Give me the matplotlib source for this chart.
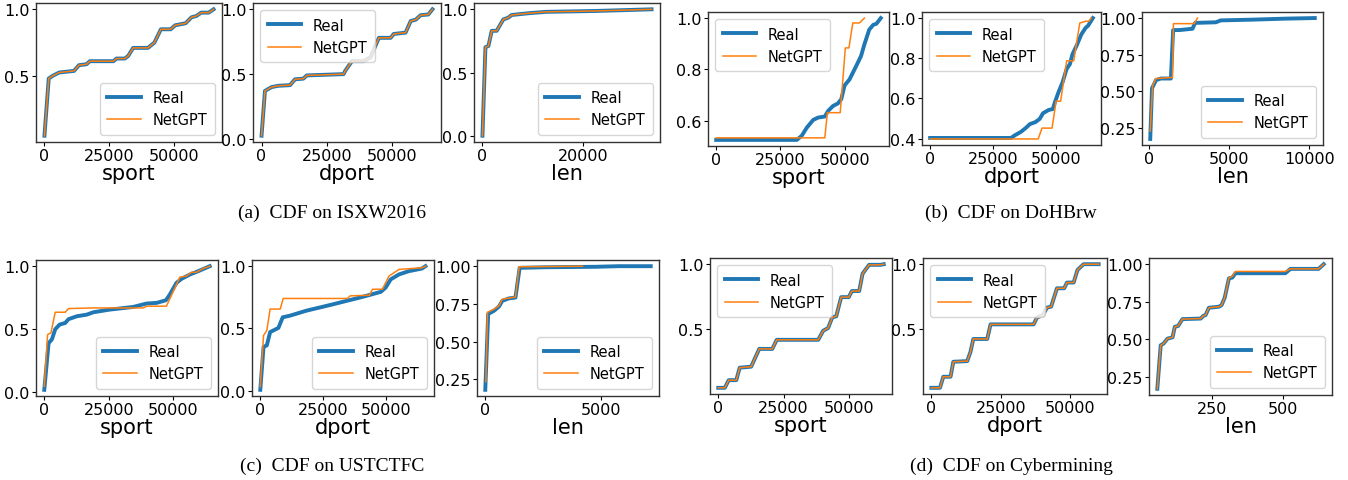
import matplotlib
matplotlib.use("Agg")
import matplotlib.pyplot as plt

W, H = 1348, 481

# ---------------- (a) ISXW2016 ----------------
isxw_sport_real_x = [0, 1650, 3160, 5700, 11400, 13300, 16200, 17500, 26600, 27800, 31000, 32300, 34200, 39900, 42400, 44900, 48700, 50400, 54400, 56700, 58600, 60400, 63300, 65200]
isxw_sport_real_y = [0.05, 0.48, 0.50, 0.525, 0.537, 0.58, 0.587, 0.61, 0.61, 0.63, 0.63, 0.65, 0.71, 0.71, 0.75, 0.85, 0.85, 0.88, 0.895, 0.94, 0.95, 0.975, 0.975, 1.0]
isxw_sport_gpt_x = isxw_sport_real_x
isxw_sport_gpt_y = isxw_sport_real_y

isxw_dport_real_x = [0, 1300, 3850, 6400, 10900, 12800, 16000, 17300, 31400, 32000, 34600, 39100, 41700, 44900, 49400, 50600, 55100, 57100, 59000, 60900, 63800, 65400]
isxw_dport_real_y = [0.025, 0.37, 0.40, 0.41, 0.415, 0.46, 0.465, 0.49, 0.50, 0.525, 0.60, 0.60, 0.63, 0.78, 0.78, 0.81, 0.82, 0.91, 0.92, 0.955, 0.96, 1.0]
isxw_dport_gpt_x = isxw_dport_real_x
isxw_dport_gpt_y = isxw_dport_real_y

isxw_len_real_x = [0, 594, 1190, 1850, 2840, 4160, 5150, 5800, 9440, 12700, 22600, 33700]
isxw_len_real_y = [0.0, 0.70, 0.71, 0.83, 0.83, 0.92, 0.934, 0.955, 0.97, 0.98, 0.987, 1.0]
isxw_len_gpt_x = isxw_len_real_x
isxw_len_gpt_y = isxw_len_real_y

# ---------------- (b) DoHBrw ----------------
doh_sport_real_x = [0, 31400, 33300, 35300, 37800, 39700, 42300, 43600, 45500, 47400, 48700, 50000, 51900, 54500, 56400, 57700, 59600, 61200, 62400, 64100]
doh_sport_real_y = [0.526, 0.526, 0.542, 0.574, 0.604, 0.613, 0.617, 0.639, 0.658, 0.668, 0.684, 0.738, 0.761, 0.813, 0.852, 0.897, 0.955, 0.974, 0.978, 1.0]
doh_sport_gpt_x = [0, 42300, 43300, 48300, 50300, 51700, 53200, 55800, 57700]
doh_sport_gpt_y = [0.534, 0.534, 0.632, 0.632, 0.884, 0.884, 0.981, 0.981, 1.0]

doh_dport_real_x = [0, 32100, 33600, 36000, 37900, 39600, 41800, 43500, 44800, 47000, 48700, 49600, 50900, 52600, 54200, 55500, 56500, 58100, 60000, 61700, 62700, 64600]
doh_dport_real_y = [0.403, 0.403, 0.416, 0.433, 0.452, 0.472, 0.482, 0.498, 0.526, 0.542, 0.547, 0.583, 0.629, 0.681, 0.747, 0.771, 0.820, 0.861, 0.918, 0.951, 0.962, 1.0]
doh_dport_gpt_x = [0, 42900, 44400, 48400, 50000, 51800, 54200, 57000, 59400, 61700, 63000, 63900]
doh_dport_gpt_y = [0.398, 0.398, 0.452, 0.452, 0.586, 0.586, 0.787, 0.787, 0.975, 0.984, 0.984, 1.0]

doh_len_real_x = [60, 170, 420, 730, 1350, 1490, 1870, 2700, 2860, 4150, 4460, 6430, 8510, 10330]
doh_len_real_y = [0.176, 0.521, 0.577, 0.588, 0.588, 0.918, 0.918, 0.927, 0.967, 0.971, 0.984, 0.989, 0.996, 1.0]
doh_len_gpt_x = [60, 210, 420, 1450, 1510, 2800, 3010]
doh_len_gpt_y = [0.23, 0.54, 0.588, 0.595, 0.962, 0.962, 1.0]

# ---------------- (c) USTCTFC ----------------
ustc_sport_real_x = [0, 1680, 2960, 4250, 5930, 8120, 9410, 12600, 16500, 19100, 25500, 34500, 39700, 43600, 47200, 48700, 51300, 53200, 56500, 59700, 64200]
ustc_sport_real_y = [0.02, 0.39, 0.42, 0.50, 0.537, 0.55, 0.58, 0.603, 0.616, 0.635, 0.656, 0.677, 0.704, 0.709, 0.73, 0.775, 0.868, 0.899, 0.934, 0.96, 1.0]
ustc_sport_gpt_x = [0, 1290, 2580, 4250, 8120, 9410, 19100, 38400, 39700, 47400, 52600, 55100, 57100, 59000, 61600, 64200]
ustc_sport_gpt_y = [0.048, 0.458, 0.471, 0.635, 0.635, 0.664, 0.669, 0.669, 0.683, 0.683, 0.913, 0.921, 0.952, 0.952, 0.981, 1.0]

ustc_dport_real_x = [0, 1300, 2600, 3900, 7200, 8900, 11800, 18300, 28000, 40600, 47800, 49700, 51700, 55000, 58900, 64100, 65500]
ustc_dport_real_y = [0.008, 0.352, 0.365, 0.471, 0.505, 0.59, 0.603, 0.643, 0.69, 0.754, 0.794, 0.828, 0.894, 0.934, 0.96, 0.981, 1.0]
ustc_dport_gpt_x = [0, 1300, 2600, 3900, 7900, 9100, 34500, 35700, 43300, 44500, 48400, 51000, 55000, 64000, 65600]
ustc_dport_gpt_y = [0.034, 0.444, 0.484, 0.656, 0.656, 0.741, 0.741, 0.762, 0.767, 0.815, 0.815, 0.92, 0.974, 0.987, 1.0]

ustc_len_real_x = [14, 140, 400, 610, 750, 1030, 1320, 1500, 2660, 4790, 5780, 7170]
ustc_len_real_y = [0.18, 0.683, 0.705, 0.733, 0.77, 0.786, 0.792, 0.989, 0.993, 0.996, 1.0, 1.0]
ustc_len_gpt_x = [40, 110, 400, 610, 750, 1320, 1480, 4220]
ustc_len_gpt_y = [0.234, 0.694, 0.716, 0.737, 0.781, 0.796, 0.996, 1.0]

# ---------------- (d) Cybermining ----------------
cyber_sport_real_x = [0, 2500, 4000, 6900, 8200, 12600, 15700, 20700, 22400, 38300, 40200, 42100, 43700, 45200, 47100, 50000, 51200, 54000, 55300, 57800, 62200, 63400]
cyber_sport_real_y = [0.047, 0.047, 0.106, 0.106, 0.202, 0.21, 0.347, 0.347, 0.417, 0.417, 0.487, 0.508, 0.591, 0.598, 0.746, 0.746, 0.793, 0.793, 0.927, 0.995, 0.995, 1.0]
cyber_sport_gpt_x = cyber_sport_real_x
cyber_sport_gpt_y = cyber_sport_real_y

cyber_dport_real_x = [0, 3100, 4300, 6900, 7900, 12900, 14100, 15100, 20100, 21300, 36800, 38000, 40200, 41600, 43100, 45200, 47800, 48800, 51200, 52600, 54800, 60200]
cyber_dport_real_y = [0.051, 0.051, 0.136, 0.136, 0.251, 0.256, 0.328, 0.426, 0.426, 0.538, 0.538, 0.59, 0.61, 0.667, 0.674, 0.815, 0.815, 0.859, 0.859, 0.956, 1.0, 1.0]
cyber_dport_gpt_x = cyber_dport_real_x
cyber_dport_gpt_y = cyber_dport_real_y

cyber_len_real_x = [55, 67, 77, 91, 109, 117, 129, 144, 209, 218, 226, 238, 274, 283, 294, 309, 321, 332, 509, 527, 627, 645]
cyber_len_real_y = [0.17, 0.46, 0.471, 0.504, 0.513, 0.583, 0.589, 0.634, 0.638, 0.656, 0.661, 0.71, 0.717, 0.728, 0.777, 0.906, 0.911, 0.94, 0.94, 0.969, 0.969, 1.0]
cyber_len_gpt_x = [55, 67, 77, 91, 109, 117, 129, 144, 209, 218, 226, 238, 274, 283, 294, 309, 321, 332, 509, 527, 627, 645]
cyber_len_gpt_y = [0.17, 0.46, 0.471, 0.504, 0.513, 0.583, 0.589, 0.634, 0.638, 0.656, 0.661, 0.71, 0.717, 0.728, 0.777, 0.91, 0.92, 0.952, 0.952, 0.969, 0.969, 1.0]

# tick values
port_xticks = [0, 25000, 50000]
isxw_len_xticks = [0, 20000]
doh_len_xticks = [0, 5000, 10000]
ustc_len_xticks = [0, 5000]
cyber_len_xticks = [250, 500]
yt_half = [0.5, 1.0]
yt_half0 = [0.0, 0.5, 1.0]
yt_fifth = [0.6, 0.8, 1.0]
yt_fifth4 = [0.4, 0.6, 0.8, 1.0]
yt_quarter = [0.25, 0.50, 0.75, 1.00]

xlabels = ["sport", "dport", "len"]
captions = ["(a)  CDF on ISXW2016", "(b)  CDF on DoHBrw",
            "(c)  CDF on USTCTFC", "(d)  CDF on Cybermining"]

panels = [
    ((36, 4, 222, 143), (isxw_sport_real_x, isxw_sport_real_y), (isxw_sport_gpt_x, isxw_sport_gpt_y), "lower right", 0, port_xticks, yt_half, "%.1f"),
    ((253, 4, 441, 143), (isxw_dport_real_x, isxw_dport_real_y), (isxw_dport_gpt_x, isxw_dport_gpt_y), "upper left", 1, port_xticks, yt_half0, "%.1f"),
    ((474, 4, 660, 143), (isxw_len_real_x, isxw_len_real_y), (isxw_len_gpt_x, isxw_len_gpt_y), "lower right", 2, isxw_len_xticks, yt_half0, "%.1f"),
    ((708, 13, 889, 147), (doh_sport_real_x, doh_sport_real_y), (doh_sport_gpt_x, doh_sport_gpt_y), "upper left", 0, port_xticks, yt_fifth, "%.1f"),
    ((922, 13, 1101, 146), (doh_dport_real_x, doh_dport_real_y), (doh_dport_gpt_x, doh_dport_gpt_y), "upper left", 1, port_xticks, yt_fifth4, "%.1f"),
    ((1142, 13, 1323, 146), (doh_len_real_x, doh_len_real_y), (doh_len_gpt_x, doh_len_gpt_y), "lower right", 2, doh_len_xticks, yt_quarter, "%.2f"),
    ((36, 261, 218, 397), (ustc_sport_real_x, ustc_sport_real_y), (ustc_sport_gpt_x, ustc_sport_gpt_y), "lower right", 0, port_xticks, yt_half0, "%.1f"),
    ((252, 261, 434, 397), (ustc_dport_real_x, ustc_dport_real_y), (ustc_dport_gpt_x, ustc_dport_gpt_y), "lower right", 1, port_xticks, yt_half0, "%.1f"),
    ((477, 261, 659, 397), (ustc_len_real_x, ustc_len_real_y), (ustc_len_gpt_x, ustc_len_gpt_y), "lower right", 2, ustc_len_xticks, yt_quarter, "%.2f"),
    ((710, 259, 892, 395), (cyber_sport_real_x, cyber_sport_real_y), (cyber_sport_gpt_x, cyber_sport_gpt_y), "upper left", 0, port_xticks, yt_half, "%.1f"),
    ((923, 259, 1107, 395), (cyber_dport_real_x, cyber_dport_real_y), (cyber_dport_gpt_x, cyber_dport_gpt_y), "upper left", 1, port_xticks, yt_half, "%.1f"),
    ((1149, 259, 1332, 396), (cyber_len_real_x, cyber_len_real_y), (cyber_len_gpt_x, cyber_len_gpt_y), "lower right", 2, cyber_len_xticks, yt_quarter, "%.2f"),
]

fig = plt.figure(figsize=(W / 100, H / 100), dpi=100)

for (l, t, r, b), real, gpt, loc, xi, xt, yt, yfmt in panels:
    ax = fig.add_axes([l / W, 1 - b / H, (r - l) / W, (b - t) / H])
    ax.plot(real[0], real[1], color="#1f77b4", lw=2.8, label="Real")
    ax.plot(gpt[0], gpt[1], color="#ff7f0e", lw=1.1, label="NetGPT")
    ax.set_xticks(xt)
    ax.set_xticklabels([str(v) for v in xt])
    ax.set_yticks(yt)
    ax.set_yticklabels([yfmt % v for v in yt])
    ax.set_xlabel(xlabels[xi], fontsize=15, labelpad=0)
    ax.tick_params(labelsize=11.5, length=3, pad=1.5)
    for s in ax.spines.values():
        s.set_color("#333333")
        s.set_linewidth(1.0)
    ax.legend(loc=loc, fontsize=10.5, handlelength=2.3, borderpad=0.5,
              labelspacing=0.5)

cap_pos = [(332, 213), (1011, 213), (332, 466), (1011, 466)]
for (cx, cy), txt in zip(cap_pos, captions):
    fig.text(cx / W, 1 - cy / H, txt, ha="center", va="center",
             fontsize=14, family="Liberation Serif")

fig.savefig("out.png", dpi=100)
